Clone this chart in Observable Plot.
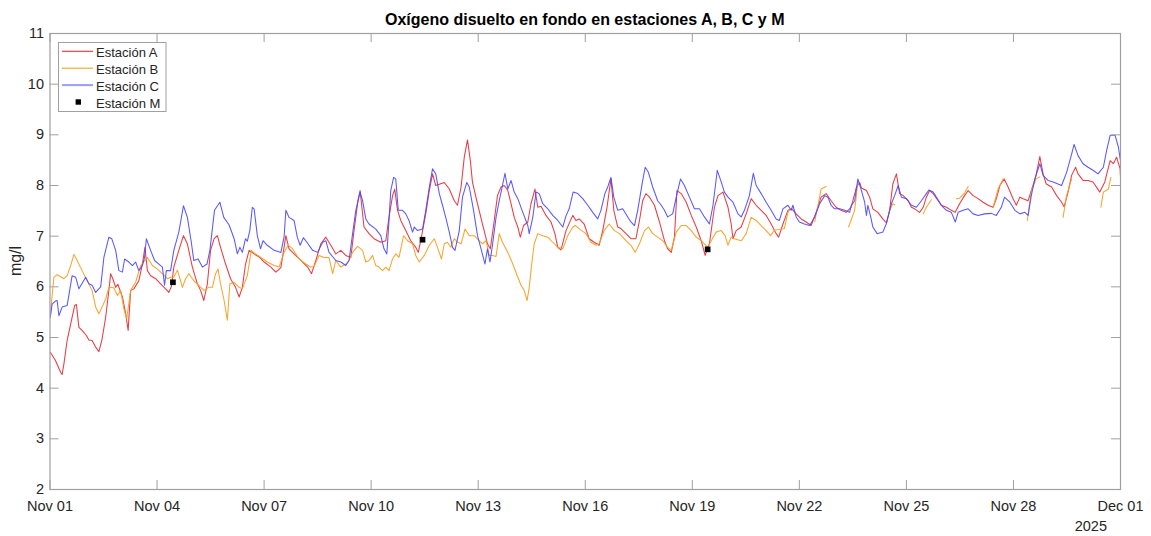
<!DOCTYPE html>
<html>
<head>
<meta charset="utf-8">
<script src="https://cdn.jsdelivr.net/npm/d3@7"></script>
<script src="https://cdn.jsdelivr.net/npm/@observablehq/plot@0.6"></script>
<style>
  html, body { margin: 0; padding: 0; background: #ffffff; }
  #chart svg { display: block; }
</style>
</head>
<body>
<div id="chart"></div>
<script>
// ---------- DATA (day offset from 2025-11-01 00:00 UTC, value mg/l) ----------
const seriesA = [[0.01,4.71],[0.15,4.55],[0.30,4.31],[0.34,4.27],[0.39,4.48],[0.48,4.94],[0.58,5.27],[0.69,5.63],[0.74,5.65],[0.81,5.20],[0.90,5.14],[1.02,5.04],[1.09,4.95],[1.18,4.94],[1.28,4.81],[1.37,4.72],[1.46,4.97],[1.56,5.40],[1.65,5.93],[1.70,6.26],[1.76,6.16],[1.84,5.99],[1.90,6.05],[2.03,5.80],[2.12,5.47],[2.19,5.14],[2.26,5.93],[2.35,5.96],[2.49,6.12],[2.59,6.45],[2.66,6.78],[2.73,6.32],[2.82,6.22],[2.96,6.16],[3.10,6.06],[3.24,5.96],[3.33,5.89],[3.40,6.00],[3.47,6.39],[3.61,6.72],[3.74,7.01],[3.85,6.85],[3.99,6.39],[4.13,6.06],[4.22,5.93],[4.31,5.73],[4.41,6.06],[4.50,6.72],[4.60,6.95],[4.69,7.01],[4.78,6.78],[4.92,6.45],[5.06,6.16],[5.20,5.99],[5.30,5.80],[5.39,5.99],[5.48,6.45],[5.58,6.72],[5.72,6.65],[5.86,6.59],[6.00,6.49],[6.19,6.39],[6.33,6.29],[6.47,6.38],[6.61,7.01],[6.70,6.75],[6.84,6.65],[7.03,6.52],[7.22,6.39],[7.33,6.26],[7.45,6.52],[7.59,6.85],[7.73,6.98],[7.87,6.82],[8.01,6.65],[8.15,6.72],[8.29,6.62],[8.43,6.58],[8.52,7.11],[8.63,7.70],[8.69,7.90],[8.80,7.18],[8.94,7.05],[9.08,6.95],[9.27,6.88],[9.41,6.91],[9.50,7.37],[9.60,7.80],[9.66,7.93],[9.74,7.51],[9.83,7.31],[9.97,7.11],[10.11,6.91],[10.25,6.78],[10.32,6.68],[10.39,6.91],[10.53,7.44],[10.63,7.90],[10.72,8.23],[10.81,8.00],[10.93,8.03],[11.05,8.06],[11.19,7.93],[11.33,7.70],[11.42,7.61],[11.52,7.97],[11.61,8.56],[11.70,8.90],[11.78,8.49],[11.84,8.06],[11.98,7.64],[12.12,7.24],[12.26,6.85],[12.34,6.75],[12.45,7.31],[12.54,7.80],[12.64,7.97],[12.73,8.00],[12.83,7.90],[12.92,7.64],[13.01,7.37],[13.11,7.18],[13.18,6.98],[13.27,7.21],[13.39,7.28],[13.48,7.64],[13.59,7.93],[13.67,7.57],[13.76,7.59],[13.90,7.41],[14.04,7.28],[14.15,7.05],[14.23,6.78],[14.32,6.73],[14.46,7.11],[14.65,7.41],[14.74,7.31],[14.83,7.34],[14.97,7.24],[15.11,6.95],[15.25,6.88],[15.39,6.82],[15.49,7.11],[15.61,7.57],[15.72,8.13],[15.80,7.51],[15.91,7.18],[16.00,7.15],[16.14,7.05],[16.28,6.95],[16.42,6.95],[16.52,7.31],[16.61,7.70],[16.70,7.84],[16.80,7.77],[16.94,7.61],[17.08,7.28],[17.22,6.91],[17.31,6.75],[17.41,6.68],[17.50,6.98],[17.57,7.90],[17.69,7.84],[17.83,7.67],[17.97,7.41],[18.11,7.18],[18.25,6.91],[18.36,6.62],[18.48,6.85],[18.62,7.57],[18.72,7.80],[18.86,7.87],[19.00,7.57],[19.09,7.24],[19.14,6.95],[19.23,7.11],[19.37,7.18],[19.51,7.44],[19.65,7.74],[19.79,7.61],[19.93,7.51],[20.07,7.41],[20.21,7.24],[20.35,7.05],[20.42,6.98],[20.54,7.24],[20.68,7.51],[20.79,7.54],[20.91,7.44],[21.05,7.34],[21.19,7.28],[21.33,7.21],[21.47,7.47],[21.61,7.77],[21.75,7.84],[21.89,7.70],[22.03,7.57],[22.17,7.51],[22.31,7.47],[22.45,7.57],[22.60,7.97],[22.69,8.06],[22.74,7.95],[22.88,7.90],[22.97,7.77],[23.06,7.54],[23.20,7.47],[23.34,7.34],[23.44,7.26],[23.53,7.51],[23.62,8.03],[23.72,8.23],[23.81,7.84],[23.91,7.80],[24.05,7.70],[24.14,7.57],[24.23,7.54],[24.37,7.47],[24.47,7.57],[24.56,7.77],[24.65,7.90],[24.75,7.84],[24.89,7.70],[24.98,7.61],[25.12,7.57],[25.26,7.51],[25.37,7.47],[25.49,7.64],[25.63,7.80],[25.73,7.90],[25.87,7.80],[26.01,7.74],[26.15,7.67],[26.29,7.61],[26.43,7.57],[26.52,7.74],[26.62,8.00],[26.74,8.13],[26.85,7.97],[26.99,7.74],[27.08,7.61],[27.18,7.77],[27.27,7.74],[27.41,7.70],[27.50,7.90],[27.62,8.16],[27.74,8.57],[27.83,8.23],[27.92,8.03],[28.07,7.97],[28.21,7.80],[28.35,7.67],[28.42,7.58],[28.53,7.87],[28.63,8.20],[28.74,8.36],[28.81,8.23],[28.95,8.10],[29.09,8.10],[29.23,8.07],[29.42,7.87],[29.56,8.07],[29.71,8.49],[29.80,8.43],[29.89,8.56],[29.99,8.33],[30.00,8.16]];

const seriesB = [[0.01,5.47],[0.11,6.19],[0.20,6.24],[0.30,6.20],[0.39,6.16],[0.48,6.22],[0.58,6.42],[0.67,6.64],[0.76,6.52],[0.90,6.32],[1.04,6.12],[1.18,5.93],[1.28,5.60],[1.37,5.47],[1.46,5.60],[1.56,5.76],[1.65,5.99],[1.79,5.98],[1.89,5.83],[1.98,5.93],[2.07,5.57],[2.15,5.37],[2.26,5.93],[2.40,6.09],[2.54,6.42],[2.73,6.58],[2.87,6.42],[3.01,6.35],[3.15,6.26],[3.29,6.16],[3.38,6.19],[3.47,6.19],[3.57,6.33],[3.66,6.12],[3.71,5.99],[3.80,6.16],[3.89,6.26],[4.03,6.12],[4.17,6.03],[4.31,5.93],[4.45,5.99],[4.55,5.99],[4.64,6.26],[4.71,6.35],[4.78,6.06],[4.88,5.73],[4.97,5.34],[5.04,6.06],[5.16,6.09],[5.30,5.99],[5.39,5.96],[5.53,6.22],[5.64,6.72],[5.76,6.65],[5.91,6.58],[6.09,6.49],[6.28,6.42],[6.42,6.39],[6.56,6.68],[6.67,6.82],[6.79,6.76],[6.98,6.55],[7.17,6.45],[7.31,6.39],[7.40,6.40],[7.54,6.62],[7.68,6.58],[7.82,6.58],[7.92,6.26],[8.01,6.52],[8.15,6.39],[8.29,6.45],[8.38,6.52],[8.48,6.68],[8.62,6.80],[8.76,6.72],[8.85,6.49],[8.94,6.52],[9.04,6.62],[9.13,6.42],[9.22,6.39],[9.32,6.32],[9.41,6.39],[9.50,6.32],[9.60,6.55],[9.69,6.65],[9.78,6.58],[9.91,7.01],[10.02,6.91],[10.16,6.85],[10.25,6.62],[10.35,6.49],[10.49,6.62],[10.63,6.82],[10.77,6.95],[10.86,6.78],[10.97,6.55],[11.05,6.85],[11.14,6.88],[11.23,6.78],[11.33,6.95],[11.42,6.88],[11.52,6.85],[11.63,7.14],[11.75,7.01],[11.89,7.01],[12.03,6.91],[12.12,6.85],[12.22,6.91],[12.31,6.62],[12.40,6.62],[12.50,6.60],[12.59,7.05],[12.68,6.88],[12.83,6.68],[12.97,6.45],[13.11,6.19],[13.20,6.03],[13.29,5.93],[13.37,5.73],[13.43,5.99],[13.50,6.45],[13.57,6.85],[13.67,7.05],[13.81,7.01],[13.95,6.98],[14.09,6.88],[14.23,6.78],[14.37,6.75],[14.51,7.01],[14.65,7.18],[14.72,7.21],[14.88,7.12],[15.02,7.05],[15.16,6.88],[15.30,6.82],[15.39,6.85],[15.53,7.11],[15.67,7.24],[15.82,7.11],[15.96,7.05],[16.14,6.91],[16.28,6.82],[16.40,6.68],[16.52,6.85],[16.66,7.11],[16.77,7.18],[16.89,7.05],[17.03,6.98],[17.17,6.91],[17.31,6.78],[17.41,6.72],[17.55,7.08],[17.69,7.21],[17.83,7.21],[17.97,7.11],[18.11,6.98],[18.25,6.91],[18.44,6.78],[18.53,6.91],[18.67,7.08],[18.81,7.11],[18.92,7.01],[19.00,6.82],[19.09,6.98],[19.18,6.95],[19.37,6.91],[19.51,7.05],[19.65,7.37],[19.79,7.31],[19.93,7.21],[20.07,7.11],[20.19,7.01],[20.30,7.12],[20.44,7.13],[20.58,7.15],[20.68,7.47],[20.75,7.54],[20.80,null],[21.43,7.28],[21.52,7.60],[21.61,7.93],[21.75,7.98],[22.00,null],[22.38,7.18],[22.55,7.51],[22.64,8.06],[23.00,null],[23.49,7.44],[23.62,7.64],[23.67,7.62],[24.00,null],[24.47,7.44],[24.56,7.57],[24.70,7.72],[25.00,null],[25.40,7.74],[25.49,7.75],[25.63,7.85],[25.73,7.98],[26.00,null],[26.43,7.57],[26.57,7.93],[26.71,8.13],[27.00,null],[27.39,7.31],[27.50,7.90],[27.64,8.13],[27.74,8.17],[28.00,null],[28.39,7.37],[28.49,7.80],[28.63,8.13],[29.00,null],[29.45,7.57],[29.52,7.87],[29.66,7.93],[29.73,8.16]];

const seriesC = [[0.01,5.40],[0.06,5.66],[0.15,5.72],[0.20,5.73],[0.25,5.43],[0.34,5.60],[0.48,5.63],[0.62,6.22],[0.72,6.19],[0.81,5.96],[1.00,6.19],[1.09,6.06],[1.18,6.03],[1.28,5.89],[1.42,6.00],[1.51,6.58],[1.65,6.98],[1.73,6.95],[1.84,6.72],[1.93,6.32],[2.03,6.29],[2.09,6.55],[2.21,6.49],[2.31,6.42],[2.40,6.49],[2.49,6.32],[2.59,6.42],[2.65,6.58],[2.70,6.95],[2.82,6.72],[2.93,6.52],[3.05,6.45],[3.15,6.39],[3.21,6.03],[3.26,6.32],[3.38,6.32],[3.47,6.72],[3.61,7.08],[3.74,7.60],[3.85,7.37],[3.96,6.88],[4.03,6.52],[4.15,6.55],[4.27,6.39],[4.40,6.45],[4.48,6.72],[4.61,7.51],[4.76,7.67],[4.87,7.37],[5.02,7.22],[5.16,6.95],[5.25,6.65],[5.32,6.78],[5.39,6.68],[5.48,6.95],[5.53,6.90],[5.60,7.11],[5.67,7.57],[5.72,7.54],[5.81,7.01],[5.90,6.75],[5.97,6.91],[6.09,6.82],[6.28,6.72],[6.47,6.68],[6.56,6.98],[6.61,7.51],[6.70,7.37],[6.84,7.31],[6.93,6.98],[7.01,6.82],[7.10,6.97],[7.22,6.86],[7.36,6.72],[7.50,6.68],[7.64,6.88],[7.73,6.91],[7.82,6.68],[8.01,6.52],[8.15,6.49],[8.29,6.42],[8.38,6.52],[8.48,7.05],[8.57,7.51],[8.69,7.87],[8.76,7.70],[8.85,7.34],[8.94,7.24],[9.13,7.14],[9.27,7.01],[9.36,6.75],[9.44,6.65],[9.50,7.31],[9.55,7.90],[9.63,8.16],[9.69,8.13],[9.76,7.51],[9.88,7.51],[9.97,7.44],[10.06,7.31],[10.16,7.08],[10.21,7.18],[10.30,7.11],[10.44,7.14],[10.53,7.51],[10.63,7.97],[10.72,8.33],[10.81,8.23],[10.91,7.84],[11.00,7.61],[11.09,7.37],[11.19,7.08],[11.28,6.78],[11.35,6.72],[11.47,7.11],[11.56,7.77],[11.68,8.06],[11.75,7.97],[11.87,7.51],[11.98,7.01],[12.08,6.75],[12.19,6.45],[12.26,6.75],[12.33,6.49],[12.40,6.82],[12.50,7.37],[12.59,7.70],[12.68,8.00],[12.75,8.24],[12.83,7.93],[12.92,8.10],[13.01,7.87],[13.11,7.74],[13.25,7.47],[13.39,7.21],[13.43,7.05],[13.53,7.37],[13.62,7.87],[13.71,7.84],[13.81,7.64],[13.95,7.54],[14.09,7.41],[14.23,7.31],[14.37,7.18],[14.46,7.40],[14.55,7.54],[14.66,7.87],[14.79,7.84],[14.93,7.74],[15.07,7.61],[15.21,7.47],[15.35,7.34],[15.44,7.51],[15.55,7.84],[15.63,7.97],[15.72,8.16],[15.80,7.77],[15.91,7.51],[16.05,7.54],[16.19,7.38],[16.28,7.28],[16.38,7.21],[16.47,7.51],[16.61,8.10],[16.68,8.36],[16.77,8.26],[16.89,7.97],[17.03,7.70],[17.13,7.61],[17.22,7.51],[17.31,7.38],[17.45,7.44],[17.55,7.77],[17.67,8.13],[17.78,8.00],[17.92,7.77],[18.06,7.54],[18.20,7.54],[18.34,7.38],[18.48,7.24],[18.58,7.61],[18.70,8.30],[18.81,8.07],[18.90,7.87],[19.00,7.77],[19.14,7.67],[19.28,7.44],[19.37,7.38],[19.46,7.51],[19.60,7.80],[19.71,8.24],[19.79,8.00],[19.93,7.84],[20.07,7.67],[20.21,7.51],[20.35,7.34],[20.44,7.31],[20.54,7.54],[20.68,7.61],[20.77,7.51],[20.82,7.61],[20.91,7.38],[21.00,7.28],[21.14,7.24],[21.29,7.21],[21.43,7.38],[21.57,7.64],[21.71,7.80],[21.80,7.77],[21.89,7.61],[21.99,7.54],[22.13,7.54],[22.27,7.51],[22.41,7.47],[22.45,7.60],[22.55,7.70],[22.64,8.13],[22.74,7.90],[22.83,7.67],[22.88,7.41],[22.92,7.61],[23.00,7.38],[23.06,7.18],[23.18,7.05],[23.34,7.08],[23.44,7.25],[23.58,7.64],[23.67,7.80],[23.77,8.00],[23.86,7.77],[24.00,7.74],[24.14,7.61],[24.28,7.57],[24.42,7.70],[24.56,7.84],[24.63,7.91],[24.75,7.87],[24.87,7.74],[24.98,7.61],[25.12,7.51],[25.26,7.47],[25.37,7.28],[25.45,7.47],[25.59,7.51],[25.73,7.54],[25.87,7.44],[26.01,7.41],[26.19,7.44],[26.38,7.45],[26.52,7.41],[26.66,7.57],[26.75,7.77],[26.90,7.67],[27.04,7.51],[27.18,7.44],[27.32,7.47],[27.41,7.41],[27.50,7.80],[27.60,8.13],[27.74,8.43],[27.83,8.20],[27.97,8.10],[28.11,8.07],[28.25,8.03],[28.35,8.00],[28.49,8.26],[28.63,8.62],[28.70,8.81],[28.81,8.59],[28.95,8.43],[29.09,8.36],[29.23,8.30],[29.37,8.23],[29.52,8.36],[29.61,8.69],[29.71,8.99],[29.85,8.99],[29.94,8.76],[29.99,8.53],[30.00,8.49]];

const seriesM = [[3.445,6.09],[10.44,6.93],[18.43,6.74]];

const seriesNames = ["Estación A", "Estación B", "Estación C", "Estación M"];
const xTickDays = [0, 3, 6, 9, 12, 15, 18, 21, 24, 27, 30];
const xTickLabels = ["Nov 01","Nov 04","Nov 07","Nov 10","Nov 13","Nov 16","Nov 19","Nov 22","Nov 25","Nov 28","Dec 01"];
const yTickValues = [2, 3, 4, 5, 6, 7, 8, 9, 10, 11];
const titleText = "Oxígeno disuelto en fondo en estaciones A, B, C y M";
const yLabelText = "mg/l";
const yearText = "2025";

// ---------- STYLE ----------
const colA = "#e8303a", colB = "#f5a024", colC = "#4646ff";
const axisGray = "#a0a0a0";
const textCol = "#262626";
const FONT = "'Liberation Sans', Arial, Helvetica, sans-serif";

const W = 1151, H = 536;
const mL = 49.5, mR = 31, mT = 33, mB = 47;
const plotW = W - mL - mR, plotH = H - mT - mB;
const TICK = 9;

const start = Date.UTC(2025, 10, 1);
const toDate = d => new Date(start + d * 864e5);
const rows = s => s.map(([d, v]) => ({date: toDate(d), value: v}));
const xTicks = xTickDays.map(toDate);
const labelMap = new Map(xTickDays.map((d, i) => [+toDate(d), xTickLabels[i]]));

const chart = Plot.plot({
  width: W, height: H,
  marginLeft: mL, marginRight: mR, marginTop: mT, marginBottom: mB,
  style: {fontFamily: FONT, fontSize: "14.5px", color: textCol, background: "#ffffff", overflow: "visible"},
  x: {type: "utc", domain: [toDate(0), toDate(30)]},
  y: {domain: [2, 11]},
  marks: [
    Plot.line(rows(seriesA), {x: "date", y: "value", stroke: colA, strokeWidth: 1.05, strokeOpacity: 0.95}),
    Plot.line(rows(seriesB), {x: "date", y: "value", stroke: colB, strokeWidth: 1.05, strokeOpacity: 0.95}),
    Plot.line(rows(seriesC), {x: "date", y: "value", stroke: colC, strokeWidth: 1.05, strokeOpacity: 0.9}),
    Plot.dot(rows(seriesM), {x: "date", y: "value", symbol: "square", r: 3.2, fill: "#000000", stroke: "none"}),
    Plot.frame({stroke: axisGray, strokeWidth: 1.2}),
    Plot.ruleX(xTicks, {stroke: axisGray, insetTop: plotH - TICK}),
    Plot.ruleX(xTicks, {stroke: axisGray, insetBottom: plotH - TICK}),
    Plot.ruleY(yTickValues, {stroke: axisGray, insetRight: plotW - TICK}),
    Plot.ruleY(yTickValues, {stroke: axisGray, insetLeft: plotW - TICK}),
    Plot.axisX(xTicks, {anchor: "bottom", tickSize: 0, tickPadding: 11, label: null, tickFormat: d => labelMap.get(+d)}),
    Plot.axisY(yTickValues, {anchor: "left", tickSize: 0, tickPadding: 6, label: null, tickFormat: d => String(d)})
  ]
});

document.getElementById("chart").appendChild(chart);

// ---------- Annotations: title, y label, year, legend ----------
const svg = d3.select(chart);
const ann = svg.append("g").attr("font-family", FONT).attr("fill", textCol);

ann.append("text")
  .attr("x", mL + plotW / 2).attr("y", 25)
  .attr("text-anchor", "middle")
  .attr("font-size", "16px").attr("font-weight", "bold").attr("fill", "#000000")
  .text(titleText);

ann.append("text")
  .attr("transform", `translate(21,${mT + plotH / 2}) rotate(-90)`)
  .attr("text-anchor", "middle")
  .attr("font-size", "16px")
  .text(yLabelText);

ann.append("text")
  .attr("x", 1107).attr("y", 531)
  .attr("text-anchor", "end")
  .attr("font-size", "14.5px")
  .text(yearText);

// legend
const lg = svg.append("g").attr("font-family", FONT).attr("text-anchor", "start");
lg.append("rect")
  .attr("x", 58.5).attr("y", 42.5).attr("width", 107.5).attr("height", 69)
  .attr("fill", "#ffffff").attr("stroke", axisGray).attr("stroke-width", 1);
const legendStyles = [
  {stroke: colA, width: 1.1},
  {stroke: colB, width: 1.1},
  {stroke: "#9c9cff", width: 2},
  null
];
seriesNames.forEach((name, i) => {
  const yy = 51.3 + i * 16.9;
  const st = legendStyles[i];
  if (st) {
    lg.append("line").attr("x1", 62).attr("x2", 93).attr("y1", yy).attr("y2", yy)
      .attr("stroke", st.stroke).attr("stroke-width", st.width);
  } else {
    lg.append("rect").attr("x", 78.3 - 2.7).attr("y", yy - 2.7).attr("width", 5.4).attr("height", 5.4).attr("fill", "#000000");
  }
  lg.append("text").attr("x", 96).attr("y", yy + 6)
    .attr("text-anchor", "start")
    .attr("font-size", "13px").attr("fill", textCol).text(name);
});
</script>
</body>
</html>
